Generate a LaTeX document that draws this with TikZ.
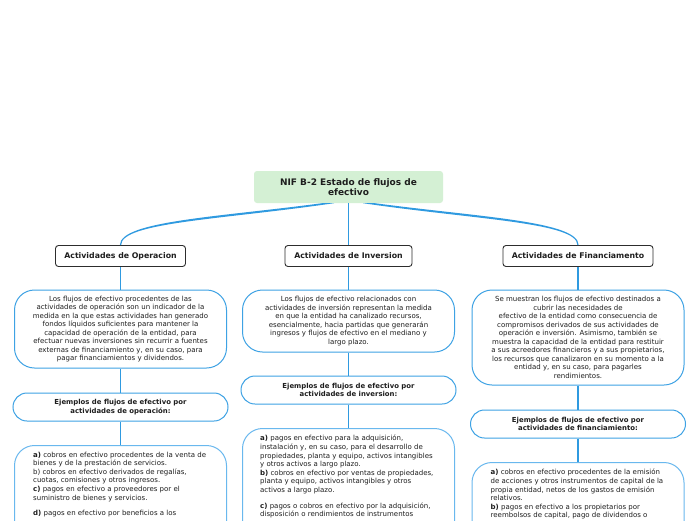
\documentclass[tikz,border=0pt]{standalone}
\usepackage{fontspec}
\setmainfont{DejaVu Sans}
\usetikzlibrary{calc}
\definecolor{connc}{RGB}{47,154,224}
\definecolor{bluebd}{RGB}{62,162,228}
\definecolor{lightbd}{RGB}{105,184,238}
\definecolor{rootfill}{RGB}{212,240,212}
\definecolor{darkbd}{RGB}{45,45,45}
\definecolor{txt}{RGB}{30,30,30}
\tikzset{
  rootbox/.style={fill=rootfill, rounded corners=3pt, minimum width=189pt, minimum height=32pt,
    inner sep=0pt, align=center, text=txt, font=\bfseries\fontsize{9}{9.8}\selectfont},
  lvlone/.style={draw=darkbd, line width=0.9pt, rounded corners=3pt, fill=white,
    minimum height=21pt, inner sep=0pt, text=txt, font=\bfseries\fontsize{7.8}{9}\selectfont},
  descbox/.style={draw=bluebd, line width=1pt, rounded corners=20pt, fill=white, minimum width=212pt,
    align=center, inner sep=0pt, text=txt, font=\fontsize{7}{8.5}\selectfont},
  exbox/.style={draw=bluebd, line width=1pt, rounded corners=14pt, fill=white, minimum width=215pt,
    minimum height=28pt, align=center, inner sep=0pt, text=txt, font=\bfseries\fontsize{6.9}{8.7}\selectfont},
  listbox/.style={draw=lightbd, line width=1pt, rounded corners=20pt, fill=white, minimum width=212pt,
    minimum height=140pt, inner sep=0pt, anchor=north},
  listtext/.style={align=left, inner sep=0pt, anchor=north west, text=txt, font=\fontsize{7}{8.6}\selectfont},
  conn/.style={draw=connc, line width=1.3pt},
  taper/.style={fill=connc}
}
\begin{document}
\begin{tikzpicture}[x=1pt,y=-1pt]
\useasboundingbox (0,0) rectangle (696,520);
\clip (0,0) rectangle (696,520);
\fill[white] (0,0) rectangle (696,520);

% root
\node[rootbox] (root) at (348.5,187) {NIF B-2 Estado de flujos de\\efectivo};

% level 1
\node[lvlone, minimum width=130pt] (op) at (120.5,256) {Actividades de Operacion};
\node[lvlone, minimum width=127pt] (inv) at (348.5,256) {Actividades de Inversion};
\node[lvlone, minimum width=150pt] (fin) at (578,256) {Actividades de Financiamento};

% level 2
\node[descbox, minimum height=78pt] (opd) at (120.5,329) {Los flujos de efectivo procedentes de las\\
actividades de operación son un indicador de la\\
medida en la que estas actividades han generado\\
fondos líquidos suficientes para mantener la\\
capacidad de operación de la entidad, para\\
efectuar nuevas inversiones sin recurrir a fuentes\\
externas de financiamiento y, en su caso, para\\
pagar financiamientos y dividendos.};
\node[descbox, minimum height=62pt] (invd) at (348.5,321) {Los flujos de efectivo relacionados con\\
actividades de inversión representan la medida\\
en que la entidad ha canalizado recursos,\\
esencialmente, hacia partidas que generarán\\
ingresos y flujos de efectivo en el mediano y\\
largo plazo.};
\node[descbox, minimum height=95pt] (find) at (578,337.5) {Se muestran los flujos de efectivo destinados a\\
cubrir las necesidades de\\
efectivo de la entidad como consecuencia de\\
compromisos derivados de sus actividades de\\
operación e inversión. Asimismo, también se\\
muestra la capacidad de la entidad para restituir\\
a sus acreedores financieros y a sus propietarios,\\
los recursos que canalizaron en su momento a la\\
entidad y, en su caso, para pagarles\\
rendimientos.};

% level 3
\node[exbox] (ope) at (120.5,407) {Ejemplos de flujos de efectivo por\\actividades de operación:};
\node[exbox] (inve) at (348.5,390) {Ejemplos de flujos de efectivo por\\actividades de inversion:};
\node[exbox] (fine) at (578,424) {Ejemplos de flujos de efectivo por\\actividades de financiamiento:};

% level 4
\node[listbox] (opl) at (120.5,445) {};
\node[listbox] (invl) at (348.5,428) {};
\node[listbox] (finl) at (578,462) {};
\node[listtext] (oplt) at ($(opl.north west)+(19,6.5)$) {\textbf{a)} cobros en efectivo procedentes de la venta de\\
bienes y de la prestación de servicios.\\
b) cobros en efectivo derivados de regalías,\\
cuotas, comisiones y otros ingresos.\\
\textbf{c)} pagos en efectivo a proveedores por el\\
suministro de bienes y servicios.\\[7pt]
\textbf{d)} pagos en efectivo por beneficios a los};
\node[listtext] (invlt) at ($(invl.north west)+(18,7)$) {\textbf{a)} pagos en efectivo para la adquisición,\\
instalación y, en su caso, para el desarrollo de\\
propiedades, planta y equipo, activos intangibles\\
y otros activos a largo plazo.\\
\textbf{b)} cobros en efectivo por ventas de propiedades,\\
planta y equipo, activos intangibles y otros\\
activos a largo plazo.\\[7pt]
\textbf{c)} pagos o cobros en efectivo por la adquisición,\\
disposición o rendimientos de instrumentos};
\node[listtext] (finlt) at ($(finl.north west)+(19,7)$) {\textbf{a)} cobros en efectivo procedentes de la emisión\\
de acciones y otros instrumentos de capital de la\\
propia entidad, netos de los gastos de emisión\\
relativos.\\
\textbf{b)} pagos en efectivo a los propietarios por\\
reembolsos de capital, pago de dividendos o};

% root connectors (tapered)
\fill[taper] ($(root.south)+(-26.5,0)$) .. controls ($(root.south)+(-129.5,13.8)$) and ($(op.north)+(-0.6,-24)$) .. ($(op.north)+(-0.6,0)$)
  -- ($(op.north)+(0.6,0)$) .. controls ($(op.north)+(0.6,-22.7)$) and ($(root.south)+(-126.5,16.4)$) .. ($(root.south)+(-14.5,0)$) -- cycle;
\fill[taper] ($(root.south)+(26.5,0)$) .. controls ($(root.south)+(129.5,13.8)$) and ($(fin.north)+(0.6,-24)$) .. ($(fin.north)+(0.6,0)$)
  -- ($(fin.north)+(-0.6,0)$) .. controls ($(fin.north)+(-0.6,-22.7)$) and ($(root.south)+(126.5,16.4)$) .. ($(root.south)+(14.5,0)$) -- cycle;
\draw[conn] (root.south) -- (inv.north);

% vertical connectors
\draw[conn] (op.south) -- (opd.north);
\draw[conn] (inv.south) -- (invd.north);
\draw[conn] (fin.south) -- (find.north);
\draw[conn] (opd.south) -- (ope.north);
\draw[conn] (invd.south) -- (inve.north);
\draw[conn] (find.south) -- (fine.north);
\draw[conn] (ope.south) -- (opl.north);
\draw[conn] (inve.south) -- (invl.north);
\draw[conn] (fine.south) -- (finl.north);
\end{tikzpicture}
\end{document}
